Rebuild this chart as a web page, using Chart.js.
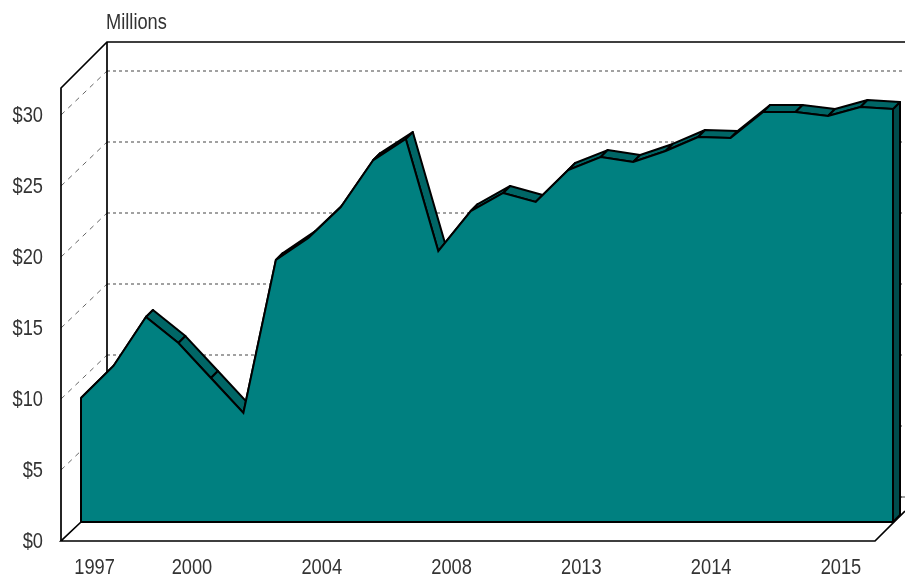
<!DOCTYPE html>
<html>
<head>
<meta charset="utf-8">
<style>html,body{margin:0;padding:0;background:#fff}canvas{display:block}</style>
<script src="https://cdn.jsdelivr.net/npm/chart.js@4"></script>
</head>
<body>
<canvas id="c" width="905" height="579"></canvas>
<script>
const categories = ['1997','','','2000','','','','2004','','','','2008','','','','2013','','','','2014','','','','2015','',''];
const seriesValues = [8.73,10.99,14.44,12.6,10.14,7.68,18.45,20.0,22.18,25.49,26.97,19.08,21.9,23.17,22.54,24.79,25.7,25.35,26.13,27.11,27.04,28.87,28.87,28.59,29.23,29.08];
const valueTicks = [0,5,10,15,20,25,30];
const unitLabel = 'Millions';

const FONT = '"Liberation Sans",sans-serif';
const TEXT = '#333';
const NARROW = 0.83;
const PLOT = {left:61,right:905,top:42,bottom:541};
const PX_PER_UNIT = 14.2, PX_PER_CAT = 32.48;
const WALL = {dx:46,dy:-44,topY:88,floorRight:875};
const AREA_PLANE = {left:81,base:522};
const BAND = {dx:7,dy:-7};
const idx = categories.map((_,i)=>i);

function line(ctx,pts,close){
  ctx.beginPath();
  pts.forEach((p,i)=> i?ctx.lineTo(p[0],p[1]):ctx.moveTo(p[0],p[1]));
  if(close) ctx.closePath();
}
function narrowText(ctx,text,x,y,align){
  ctx.save();
  ctx.translate(x,y); ctx.scale(NARROW,1);
  ctx.fillStyle = TEXT; ctx.font = '22px '+FONT; ctx.textAlign = align; ctx.textBaseline = 'middle';
  ctx.fillText(text,0,0);
  ctx.restore();
}

const shell = {
  id:'shell',
  beforeDatasetsDraw(chart){
    const {ctx,scales:{y,yArea}} = chart;
    const meta = chart.getDatasetMeta(0).data;
    const p0 = y.getPixelForValue(0);
    ctx.save();
    // dashed grid on back wall and side wall
    ctx.lineWidth = 1;
    valueTicks.forEach(v=>{
      const py = y.getPixelForValue(v);
      ctx.strokeStyle = '#444'; ctx.setLineDash([3,3]);
      line(ctx,[[PLOT.left+WALL.dx,py+WALL.dy],[PLOT.right,py+WALL.dy]]); ctx.stroke();
      if(v>0){
        ctx.strokeStyle = '#666'; ctx.setLineDash([5,5]);
        line(ctx,[[PLOT.left,py],[PLOT.left+WALL.dx,py+WALL.dy]]); ctx.stroke();
      }
    });
    ctx.setLineDash([]);
    // solid frame
    ctx.strokeStyle = '#000'; ctx.lineWidth = 1.7;
    line(ctx,[[PLOT.left,p0],[PLOT.left,WALL.topY],[PLOT.left+WALL.dx,PLOT.top],[PLOT.right,PLOT.top]]); ctx.stroke();
    line(ctx,[[PLOT.left+WALL.dx,PLOT.top],[PLOT.left+WALL.dx,p0+WALL.dy]]); ctx.stroke();
    line(ctx,[[AREA_PLANE.left,AREA_PLANE.base],[PLOT.left,p0],[WALL.floorRight,p0],[PLOT.right,p0-30]]); ctx.stroke();
    ctx.strokeStyle = '#444'; ctx.lineWidth = 1;
    line(ctx,[[PLOT.left+WALL.dx,p0+WALL.dy],[PLOT.right,p0+WALL.dy]]); ctx.stroke();
    // depth faces of the area, from its own points
    ctx.strokeStyle = '#000'; ctx.lineWidth = 2; ctx.lineJoin = 'round';
    const last = meta[meta.length-1], base = yArea.getPixelForValue(0);
    ctx.fillStyle = '#004d4d';
    line(ctx,[[last.x,last.y],[last.x+BAND.dx,last.y+BAND.dy],[last.x+BAND.dx,base+BAND.dy],[last.x,base]],true);
    ctx.fill(); ctx.stroke();
    ctx.fillStyle = '#006666';
    for(let i=0;i<meta.length-1;i++){
      const a = meta[i], b = meta[i+1];
      line(ctx,[[a.x,a.y],[a.x+BAND.dx,a.y+BAND.dy],[b.x+BAND.dx,b.y+BAND.dy],[b.x,b.y]],true);
      ctx.fill(); ctx.stroke();
    }
    ctx.restore();
  },
  afterDatasetsDraw(chart){
    const {ctx,scales:{x,y,yArea}} = chart;
    const meta = chart.getDatasetMeta(0).data;
    const base = yArea.getPixelForValue(0);
    const first = meta[0], last = meta[meta.length-1];
    ctx.save();
    ctx.strokeStyle = '#000'; ctx.lineWidth = 2;
    line(ctx,[[first.x,first.y],[first.x,base],[last.x,base],[last.x,last.y]]); ctx.stroke();
    ctx.restore();
    y.ticks.forEach(t=>narrowText(ctx,t.label,43,y.getPixelForValue(t.value)+1,'right'));
    x.ticks.forEach(t=>narrowText(ctx,t.label,x.getPixelForValue(t.value)+0.5,568,'center'));
    narrowText(ctx,unitLabel,PLOT.left+WALL.dx-1,23,'left');
  }
};

new Chart(document.getElementById('c'),{
  type:'line',
  data:{datasets:[{
    data:idx.map(i=>({x:i,y:seriesValues[i]})),
    xAxisID:'xArea',yAxisID:'yArea',
    borderColor:'#000',borderWidth:2,backgroundColor:'#008080',
    fill:'origin',tension:0,pointRadius:0,clip:false
  }]},
  plugins:[shell],
  options:{
    responsive:false,animation:false,
    layout:{padding:{top:PLOT.top,right:0,left:0,bottom:0}},
    plugins:{legend:{display:false},tooltip:{enabled:false}},
    scales:{
      x:{type:'linear',position:'bottom',
        min:-1.02,max:-1.02+(PLOT.right-PLOT.left)/32.45,
        afterBuildTicks:a=>{a.ticks=idx.filter(i=>categories[i]).map(i=>({value:i}));},
        afterFit:a=>{a.height=579-PLOT.bottom;},
        grid:{display:false},border:{display:false},
        ticks:{display:false,autoSkip:false,maxRotation:0,callback:v=>categories[v]}
      },
      y:{type:'linear',position:'left',
        min:0,max:(PLOT.bottom-PLOT.top)/PX_PER_UNIT,
        afterBuildTicks:a=>{a.ticks=valueTicks.map(v=>({value:v}));},
        afterFit:a=>{a.width=PLOT.left;},
        grid:{display:false},border:{display:false},
        ticks:{display:false,autoSkip:false,callback:v=>'$'+v}
      },
      xArea:{type:'linear',display:false,
        min:(PLOT.left-AREA_PLANE.left)/PX_PER_CAT,
        max:(PLOT.right-AREA_PLANE.left)/PX_PER_CAT},
      yArea:{type:'linear',display:false,
        min:(AREA_PLANE.base-PLOT.bottom)/PX_PER_UNIT,
        max:(AREA_PLANE.base-PLOT.top)/PX_PER_UNIT}
    }
  }
});
</script>
</body>
</html>
